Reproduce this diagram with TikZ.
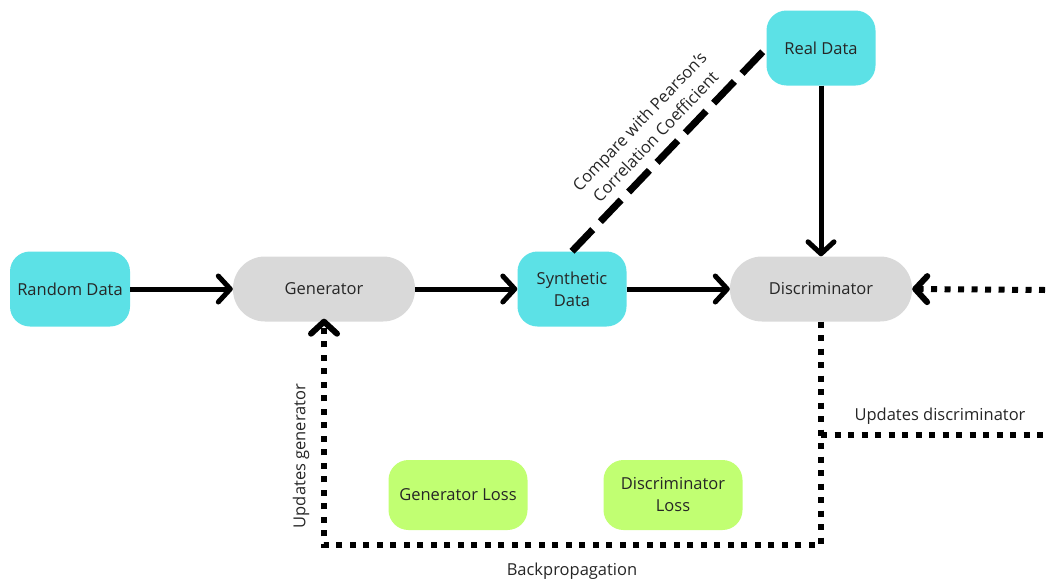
\documentclass[tikz,border=0pt]{standalone}
\usepackage{fontspec}
\setmainfont{Open Sans}
\usetikzlibrary{arrows.meta}

\definecolor{cyanbox}{HTML}{5CE1E6}
\definecolor{greybox}{HTML}{D9D9D9}
\definecolor{limebox}{HTML}{C1FF72}
\definecolor{boxtext}{HTML}{262626}

\tikzstyle{dataBox} = [rectangle, rounded corners=20pt, minimum width=109pt, minimum height=75pt, align=center, fill=cyanbox, text=boxtext]
\tikzstyle{netBox} = [rectangle, rounded corners=32pt, minimum width=182pt, minimum height=65pt, align=center, fill=greybox, text=boxtext]
\tikzstyle{lossBox} = [rectangle, rounded corners=20pt, minimum width=139pt, minimum height=70pt, align=center, fill=limebox, text=boxtext]
\tikzstyle{flow} = [line width=5pt, -{Straight Barb[length=12pt, width=26pt, round]}]
\tikzstyle{backprop} = [line width=6pt, dash pattern=on 6pt off 7.5pt]
\tikzstyle{compare} = [line width=7pt, dash pattern=on 30pt off 11pt]
\tikzstyle{caption} = [text=boxtext, align=center]

\begin{document}
\begin{tikzpicture}[x=1pt, y=-1pt, node distance=250pt, font=\fontsize{16.5}{22}\selectfont]

	\useasboundingbox (0,0) rectangle (1052,581);

	\node (random) [dataBox, minimum width=120pt] at (70,289) {Random Data};
	\node (generator) [netBox, right of=random, xshift=4pt] {Generator};
	\node (synthetic) [dataBox, right of=generator, xshift=-2pt] {Synthetic\\Data};
	\node (discriminator) [netBox, right of=synthetic, xshift=-1pt] {Discriminator};
	\node (real) [dataBox, above of=discriminator, node distance=241pt] {Real Data};

	\node (genLoss) [lossBox] at (458,495) {Generator Loss};
	\node (discLoss) [lossBox] at (673,495) {Discriminator\\Loss};

	\coordinate (feedIn) at (1045,290);
	\coordinate (baseY) at (0,545);
	\coordinate (branchY) at (0,435);
	\coordinate (branchEnd) at (1045,435);

	\draw [flow] (random) -- (generator);
	\draw [flow] (generator) -- (synthetic);
	\draw [flow] (synthetic) -- (discriminator);
	\draw [flow] (real) -- (discriminator);

	\draw [compare] (synthetic.north) -- (real.west)
		node (pearson) [caption, midway, sloped, above=6pt] {Compare with Pearson's\\Correlation Coefficient};

	\draw [backprop, -{Straight Barb[length=12pt, width=26pt, round]}] (feedIn) -- (discriminator.east);
	\draw [backprop, -{Straight Barb[length=12pt, width=26pt, round]}] (discriminator.south) -- (discriminator.south |- baseY) -- (generator.south |- baseY) -- ([yshift=3pt]generator.south);
	\draw [backprop] (discriminator.south |- branchY) -- (branchEnd);

	\node (updGen) [caption, rotate=90] at (301,456) {Updates generator};
	\node (backLabel) [caption] at (572,571) {Backpropagation};
	\node (updDisc) [caption] at (940,416) {Updates discriminator};

\end{tikzpicture}
\end{document}
